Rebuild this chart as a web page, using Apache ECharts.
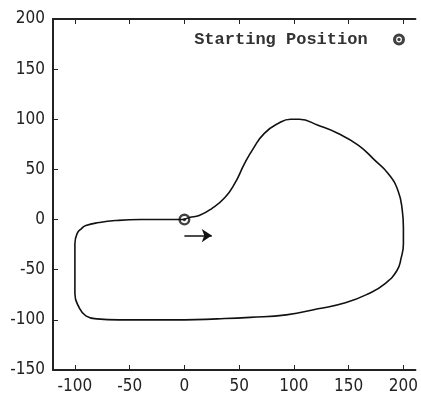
<!DOCTYPE html>
<html>
<head>
<meta charset="utf-8">
<script src="https://cdn.jsdelivr.net/npm/echarts@6/dist/echarts.min.js"></script>
<style>
html,body{margin:0;padding:0;background:#fff}
#chart{width:421px;height:400px}
</style>
</head>
<body>
<div id="chart"></div>
<script>
// trajectory, in drawing order from the start point
var pathX = [0, 4.5, 13.5, 25, 37, 46, 55, 63, 73, 86, 97, 105, 122, 140, 159, 174, 186, 195, 199, 200,
  200, 198, 194, 183, 168, 147, 122, 93, 60, 30, 0, -60, -80, -90, -96, -100, -100, -98, -94, -90,
  -78, -63, -40, 0];
var pathY = [0, 2, 4, 11, 22, 36, 56, 71, 86, 96, 100, 100, 94, 86, 74, 59, 46, 29, 9, -8,
  -24, -38, -51, -64, -74, -83, -89, -95, -97.5, -99, -100, -100, -99, -96, -88, -74, -24, -14, -9, -6,
  -3, -1, 0, 0];
var startPoint = [0, 0];
var arrowFrom = [0, -16];
var arrowTo = [25, -16];
var xTicks = [-100, -50, 0, 50, 100, 150, 200];

var ring = 'path://M50,0 A50,50 0 1,1 49.9,0 Z M50,20 A30,30 0 1,0 50.1,20 Z M50,36 A14,14 0 1,1 49.9,36 Z';
var ringBold = 'path://M50,0 A50,50 0 1,1 49.9,0 Z M50,26 A24,24 0 1,0 50.1,26 Z M50,36 A14,14 0 1,1 49.9,36 Z';

var pathData = [];
for (var i = 0; i < pathX.length; i++) pathData.push([pathX[i], pathY[i]]);

var labelFont = "'Liberation Sans Narrow', 'DejaVu Sans Condensed', sans-serif";
var axisLine = { show: true, onZero: false, lineStyle: { color: '#222', width: 2 } };

var chart = echarts.init(document.getElementById('chart'));
chart.setOption({
  animation: false,
  grid: { left: 53, right: 0, top: 19, bottom: 30 },
  legend: {
    right: 11, top: 26,
    align: 'right',
    itemWidth: 12, itemHeight: 12,
    data: [{ name: 'Starting Position', icon: ringBold }],
    formatter: function (name) { return name + '  '; },
    textStyle: { fontFamily: "'Liberation Mono', monospace", fontSize: 17, fontWeight: 'bold', color: '#333' }
  },
  xAxis: [{
    type: 'value', min: -120, max: 211, position: 'bottom',
    axisLine: axisLine,
    axisTick: { show: true, inside: true, length: 5, customValues: xTicks, lineStyle: { color: '#222' } },
    axisLabel: { customValues: xTicks, fontFamily: labelFont, fontSize: 17, color: '#222', margin: 8 },
    splitLine: { show: false }
  }, {
    type: 'value', min: -120, max: 211, position: 'top',
    axisLine: axisLine,
    axisTick: { show: true, inside: true, length: 5, customValues: xTicks, lineStyle: { color: '#222' } },
    axisLabel: { show: false },
    splitLine: { show: false }
  }],
  yAxis: {
    type: 'value', min: -150, max: 200, interval: 50,
    axisLine: axisLine,
    axisTick: { show: true, inside: true, length: 5, lineStyle: { color: '#222' } },
    axisLabel: { fontFamily: labelFont, fontSize: 17, color: '#222', margin: 8 },
    splitLine: { show: false }
  },
  series: [{
    name: 'path',
    type: 'line',
    data: pathData,
    smooth: 0.5,
    showSymbol: false,
    lineStyle: { color: '#111', width: 1.6 },
    markLine: {
      silent: true,
      symbol: ['none', 'arrow'],
      symbolSize: 10,
      label: { show: false },
      lineStyle: { color: '#111', width: 1.5, type: 'solid' },
      data: [[{ coord: arrowFrom }, { coord: arrowTo }]]
    }
  }, {
    name: 'Starting Position',
    type: 'scatter',
    data: [startPoint],
    symbol: ring,
    symbolSize: 12,
    itemStyle: { color: '#111' },
    z: 5
  }]
});
</script>
</body>
</html>
